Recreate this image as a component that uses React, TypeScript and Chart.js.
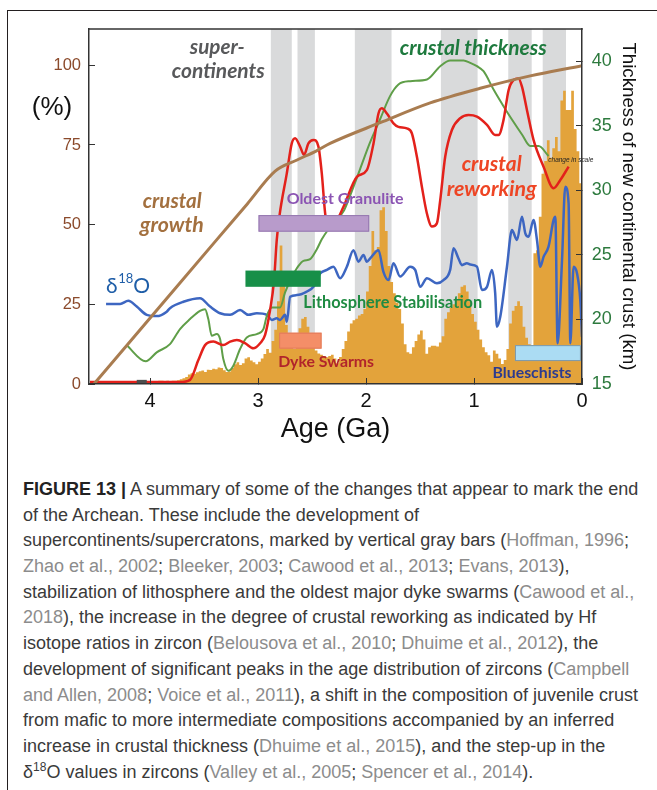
import React, { useEffect, useRef } from 'react';
import { Chart, registerables } from 'chart.js';

Chart.register(...registerables);

// ---------- axes ----------
const X_TICKS = [0, 1, 2, 3, 4];
const PCT_TICKS = [0, 25, 50, 75, 100];
const KM_TICKS = [15, 20, 25, 30, 35, 40];

// ---------- supercontinent intervals (Ga) ----------
const SUPER_OLD = [2.882, 2.635, 2.104, 1.307, 0.683, 0.364];
const SUPER_YOUNG = [2.688, 2.474, 1.764, 0.967, 0.466, 0.148];

// ---------- crustal growth (%) ----------
const GROWTH_AGE = [4.52, 4.0, 3.4, 3.1, 2.842, 2.639, 2.463, 2.333, 1.869, 1.406, 0.943, 0.479, 0];
const GROWTH_PCT = [0, 20.7, 44.6, 56.5, 66.8, 70.3, 73.1, 75.5, 82.0, 88.2, 92.8, 96.7, 99.9];

// ---------- crustal reworking (%) ----------
const REWORK_AGE = [4.557, 3.723, 3.63, 3.553, 3.491, 3.414, 3.322, 3.259, 3.197, 3.121, 3.044, 2.981, 2.935, 2.889, 2.852, 2.827, 2.801, 2.734, 2.688, 2.657, 2.611, 2.574, 2.534, 2.487, 2.441, 2.41, 2.379, 2.351, 2.302, 2.209, 2.085, 1.993, 1.931, 1.885, 1.854, 1.807, 1.746, 1.7, 1.622, 1.576, 1.529, 1.483, 1.437, 1.39, 1.344, 1.313, 1.267, 1.205, 1.128, 1.051, 0.973, 0.88, 0.804, 0.773, 0.727, 0.68, 0.634, 0.588, 0.556, 0.51, 0.449, 0.356, 0.263, 0.201, 0.124];
const REWORK_PCT = [0.6, 0.6, 1.3, 7.5, 12.2, 13.3, 12.2, 13.3, 13.8, 12.8, 11.2, 12.8, 15.4, 23.2, 32.6, 45.2, 53.0, 66.1, 75.5, 77.1, 74.5, 71.9, 75.5, 76.6, 74.5, 66.1, 53.6, 48.3, 49.4, 55.6, 65.0, 67.1, 75.5, 84.9, 86.5, 84.9, 81.8, 80.7, 80.2, 78.7, 71.3, 61.9, 53.6, 49.4, 50.4, 57.7, 71.3, 79.7, 83.4, 84.4, 83.9, 81.3, 78.1, 78.1, 82.8, 92.2, 95.4, 95.9, 93.3, 86.0, 76.6, 68.2, 61.4, 64.0, 68.2];

// ---------- crustal thickness (km) ----------
const THICK_AGE = [4.217, 4.041, 3.939, 3.816, 3.723, 3.63, 3.538, 3.491, 3.461, 3.429, 3.383, 3.352, 3.322, 3.275, 3.229, 3.167, 3.105, 3.012, 2.951, 2.919, 2.873, 2.796, 2.75, 2.688, 2.626, 2.58, 2.518, 2.456, 2.41, 2.348, 2.203, 2.149, 2.056, 1.964, 1.871, 1.778, 1.7, 1.591, 1.436, 1.313, 1.22, 1.097, 1.035, 0.973, 0.912, 0.819, 0.727, 0.649, 0.556, 0.479, 0.402, 0.31];
const THICK_KM = [18.0, 16.76, 17.45, 18.09, 19.25, 20.03, 20.67, 20.8, 20.03, 18.74, 18.87, 18.48, 16.93, 16.03, 16.42, 17.71, 18.61, 18.87, 19.25, 20.28, 20.93, 20.93, 22.09, 23.25, 24.15, 24.54, 24.67, 25.44, 26.21, 26.99, 28.46, 29.56, 31.63, 33.69, 35.49, 37.3, 38.2, 38.46, 38.59, 39.62, 40.06, 40.06, 39.88, 39.62, 39.23, 37.81, 36.52, 35.49, 34.33, 33.43, 33.43, 32.66];

// ---------- delta 18 O (relative, plotted on % axis) ----------
const D18O_AGE = [4.408, 4.278, 4.202, 4.124, 4.031, 3.939, 3.846, 3.816, 3.692, 3.538, 3.445, 3.352, 3.259, 3.167, 3.09, 3.012, 2.919, 2.873, 2.827, 2.796, 2.75, 2.734, 2.703, 2.641, 2.549, 2.487, 2.425, 2.363, 2.302, 2.24, 2.178, 2.117, 2.07, 2.024, 1.993, 1.962, 1.885, 1.839, 1.792, 1.746, 1.684, 1.591, 1.545, 1.498, 1.436, 1.344, 1.283, 1.221, 1.19, 1.144, 1.112, 1.066, 1.035, 0.973, 0.927, 0.88, 0.834, 0.804, 0.788, 0.757, 0.695, 0.649, 0.602, 0.556, 0.525, 0.495, 0.449, 0.417, 0.386, 0.356, 0.31, 0.263, 0.247, 0.226, 0.185, 0.155, 0.124, 0.108, 0.078, 0.046, 0.016, 0];
const D18O_VAL = [25.1, 25.1, 26.1, 24.3, 21.7, 21.3, 22.7, 23.8, 25.8, 26.9, 24.3, 22.2, 21.7, 23.2, 21.7, 22.2, 21.7, 20.1, 20.6, 20.1, 21.7, 19.5, 27.4, 27.9, 29.0, 30.5, 34.7, 35.8, 36.8, 33.2, 36.8, 42.0, 38.4, 40.5, 38.4, 39.4, 42.0, 35.2, 32.6, 37.9, 33.7, 36.8, 35.8, 30.5, 33.2, 31.6, 32.6, 35.8, 42.6, 39.4, 37.3, 37.9, 37.5, 36.8, 29.5, 30.5, 35.8, 28.5, 18.0, 21.1, 36.8, 48.3, 45.2, 52.5, 47.3, 46.2, 51.5, 45.2, 36.8, 39.9, 43.1, 51.5, 52.5, 12.8, 38.9, 61.9, 56.7, 12.8, 36.8, 34.7, 26.4, 14.8];

// ---------- zircon age histogram (relative, 0.025 Ga bins from 3.95 Ga to 0) ----------
const ZIRCON_FIRST_BIN = 3.95;
const ZIRCON_BIN_WIDTH = 0.025;
const ZIRCON_COUNTS = [
  0.5, 1.0, 1.0, 0.8, 1.0, 0.8, 1.0, 1.0, 1.2, 1.5,
  1.8, 2.2, 3.0, 3.4, 3.2, 3.7, 4.0, 4.2, 3.8, 4.5,
  4.4, 4.8, 4.6, 5.2, 5.0, 4.3, 3.8, 3.9, 5.0, 6.2,
  6.8, 6.0, 6.5, 8.0, 8.4, 7.4, 6.8, 6.2, 7.0, 8.0,
  9.4, 11.0, 9.8, 13.5, 17.0, 26.0, 43.5, 33.0, 18.5, 15.0,
  12.5, 11.0, 13.0, 17.5, 20.5, 21.0, 18.0, 14.0, 11.5, 10.5,
  9.6, 9.2, 8.8, 8.4, 8.8, 9.2, 8.0, 6.5, 8.5, 11.0,
  13.5, 16.5, 19.0, 20.0, 20.5, 21.5, 22.0, 23.5, 29.0, 37.0,
  48.0, 42.0, 43.0, 54.5, 55.5, 48.0, 37.0, 32.0, 28.5, 25.5,
  23.5, 19.0, 12.5, 10.0, 9.5, 11.5, 13.5, 15.5, 16.8, 14.0,
  9.5, 11.5, 12.0, 12.0, 11.8, 13.0, 15.0, 20.5, 22.5, 24.0,
  25.0, 26.5, 28.5, 30.5, 31.0, 29.0, 26.0, 22.0, 19.5, 17.0,
  14.0, 11.5, 10.0, 9.0, 7.0, 10.5, 9.5, 8.0, 6.3, 7.5,
  11.0, 19.0, 23.0, 24.5, 26.0, 24.5, 18.0, 14.5, 12.5, 11.5,
  41.0, 42.0, 52.5, 66.0, 70.0, 76.5, 71.0, 74.0, 77.5, 73.0,
  89.0, 92.0, 86.0, 86.0, 92.0, 80.0, 73.0, 63.0, 60.0,
];

// ---------- event bars (Ga) ----------
const EVENT_NAMES = ['Oldest Granulite', 'Lithosphere Stabilisation', 'Dyke Swarms', 'Blueschists', 'oldest zircon'];
const EVENT_OLD = [2.996, 3.117, 2.805, 0.621, 4.124];
const EVENT_YOUNG = [1.971, 2.419, 2.412, 0.01, 4.031];
// vertical placement of the bars on the % axis (styling)
const EVENT_LO = [47.8, 30.5, 11.1, 7.2, 0.3];
const EVENT_HI = [53.0, 35.6, 16.1, 12.2, 1.3];
const EVENT_FILL = ['#b89bcb', '#178f48', '#f48e68', '#abdcf3', '#4d4d4d'];
const EVENT_STROKE = ['#9577b0', '', '#e27a58', '#7d97a5', ''];

const SANS = '"Liberation Sans", Arial, Helvetica, sans-serif';
const LABEL_FAMILY = 'Lato, "Noto Sans", sans-serif';

type Label = { text: string; age: number; pct: number; w: number; color: string; style: string; family?: string };
const LABELS: Label[] = [
  { text: 'super-', age: 3.378, pct: 105.7, w: 55, color: '#58595b', style: 'italic bold' },
  { text: 'continents', age: 3.369, pct: 98.2, w: 93, color: '#58595b', style: 'italic bold' },
  { text: 'crustal thickness', age: 1.007, pct: 105.4, w: 147, color: '#1e7a3e', style: 'italic bold' },
  { text: 'crustal', age: 3.795, pct: 57.4, w: 59, color: '#a3703f', style: 'italic bold' },
  { text: 'growth', age: 3.8, pct: 49.9, w: 64, color: '#a3703f', style: 'italic bold' },
  { text: 'crustal', age: 0.837, pct: 69.0, w: 60, color: '#ee4524', style: 'italic bold' },
  { text: 'reworking', age: 0.837, pct: 61.2, w: 90, color: '#ee4524', style: 'italic bold' },
  { text: 'Oldest Granulite', age: 2.194, pct: 58.0, w: 117, color: '#8b54b3', style: 'bold' },
  { text: 'Lithosphere Stabilisation', age: 1.753, pct: 25.5, w: 179, color: '#1f8b42', style: 'bold' },
  { text: 'Dyke Swarms', age: 2.37, pct: 6.8, w: 96, color: '#b1242b', style: 'bold' },
  { text: 'Blueschists', age: 0.463, pct: 3.4, w: 79, color: '#2c3b8f', style: 'bold' },
  { text: 'change in scale', age: 0.104, pct: 70.1, w: 45, color: '#222', style: 'italic', family: SANS },
];

function drawFitted(ctx: CanvasRenderingContext2D, l: Label, cx: number, cy: number) {
  const fam = l.family || LABEL_FAMILY;
  ctx.font = `${l.style} 20px ${fam}`;
  const m = ctx.measureText(l.text).width;
  const size = (20 * l.w) / m;
  ctx.font = `${l.style} ${size}px ${fam}`;
  ctx.fillStyle = l.color;
  ctx.textAlign = 'center';
  ctx.textBaseline = 'middle';
  ctx.fillText(l.text, cx, cy);
}

const overlayPlugin = {
  id: 'overlay',
  beforeDatasetsDraw(chart: any) {
    const { ctx, chartArea: a, scales } = chart;
    const x = scales.x;
    ctx.save();
    ctx.fillStyle = '#d9dadb';
    for (let i = 0; i < SUPER_OLD.length; i++) {
      const x1 = x.getPixelForValue(SUPER_OLD[i]);
      const x2 = x.getPixelForValue(SUPER_YOUNG[i]);
      ctx.fillRect(x1, a.top, x2 - x1, a.bottom - a.top);
    }
    ctx.restore();
  },
  afterDatasetsDraw(chart: any) {
    const { ctx, scales } = chart;
    const x = scales.x;
    const y = scales.y;
    ctx.save();
    for (let i = 0; i < EVENT_NAMES.length; i++) {
      const x1 = x.getPixelForValue(EVENT_OLD[i]);
      const x2 = x.getPixelForValue(EVENT_YOUNG[i]);
      const y1 = y.getPixelForValue(EVENT_HI[i]);
      const y2 = y.getPixelForValue(EVENT_LO[i]);
      ctx.fillStyle = EVENT_FILL[i];
      ctx.fillRect(x1, y1, x2 - x1, y2 - y1);
      if (EVENT_STROKE[i]) {
        ctx.strokeStyle = EVENT_STROKE[i];
        ctx.lineWidth = 1;
        ctx.strokeRect(x1 + 0.5, y1 + 0.5, x2 - x1 - 1, y2 - y1 - 1);
      }
    }
    for (const l of LABELS) {
      drawFitted(ctx, l, x.getPixelForValue(l.age), y.getPixelForValue(l.pct));
    }
    // delta 18 O label
    const dx = x.getPixelForValue(4.408);
    const dy = y.getPixelForValue(28.6);
    ctx.fillStyle = '#1f5ea8';
    ctx.textAlign = 'left';
    ctx.textBaseline = 'alphabetic';
    ctx.font = `21px ${LABEL_FAMILY}`;
    ctx.fillText('δ', dx, dy);
    let cx = dx + ctx.measureText('δ').width + 0.5;
    ctx.font = `13px ${LABEL_FAMILY}`;
    ctx.fillText('18', cx, dy - 10);
    cx += ctx.measureText('18').width;
    ctx.font = `21px ${LABEL_FAMILY}`;
    ctx.fillText('O', cx, dy);
    ctx.restore();
  },
  afterDraw(chart: any) {
    const { ctx, chartArea: a } = chart;
    ctx.save();
    ctx.strokeStyle = '#333';
    ctx.lineWidth = 1.5;
    ctx.beginPath();
    ctx.moveTo(a.left - 0.75, a.top);
    ctx.lineTo(a.right + 0.75, a.top);
    ctx.stroke();
    // (%) unit label
    ctx.fillStyle = '#111';
    ctx.font = `26px ${SANS}`;
    ctx.textAlign = 'center';
    ctx.textBaseline = 'middle';
    ctx.fillText('(%)', 52, 108);
    ctx.restore();
  },
};

type Seg = [string, number];
const CAPTION: Seg[][] = [
  [['FIGURE 13 |', 2], [' A summary of some of the changes that appear to mark the end', 0]],
  [['of the Archean. These include the development of', 0]],
  [['supercontinents/supercratons, marked by vertical gray bars (', 0], ['Hoffman, 1996', 1], [';', 0]],
  [['Zhao et al., 2002', 1], ['; ', 0], ['Bleeker, 2003', 1], ['; ', 0], ['Cawood et al., 2013', 1], ['; ', 0], ['Evans, 2013', 1], ['),', 0]],
  [['stabilization of lithosphere and the oldest major dyke swarms (', 0], ['Cawood et al.,', 1]],
  [['2018', 1], ['), the increase in the degree of crustal reworking as indicated by Hf', 0]],
  [['isotope ratios in zircon (', 0], ['Belousova et al., 2010', 1], ['; ', 0], ['Dhuime et al., 2012', 1], ['), the', 0]],
  [['development of significant peaks in the age distribution of zircons (', 0], ['Campbell', 1]],
  [['and Allen, 2008', 1], ['; ', 0], ['Voice et al., 2011', 1], ['), a shift in the composition of juvenile crust', 0]],
  [['from mafic to more intermediate compositions accompanied by an inferred', 0]],
  [['increase in crustal thickness (', 0], ['Dhuime et al., 2015', 1], ['), and the step-up in the', 0]],
  [['δ', 0], ['18', 3], ['O values in zircons (', 0], ['Valley et al., 2005', 1], ['; ', 0], ['Spencer et al., 2014', 1], [').', 0]],
];

export default function App() {
  const ref = useRef<HTMLCanvasElement>(null);

  useEffect(() => {
    const canvas = ref.current;
    if (!canvas) return;
    const pts = (xs: number[], ys: number[]) => xs.map((a, i) => ({ x: a, y: ys[i] }));
    const zircon = ZIRCON_COUNTS.map((v, i) => ({ x: +(ZIRCON_FIRST_BIN - i * ZIRCON_BIN_WIDTH).toFixed(3), y: v }));
    const tickGrid = { drawOnChartArea: false, drawTicks: true, tickLength: -6, color: '#333', lineWidth: 1, z: 1 };
    const border = { display: true, color: '#333', width: 1.5, z: 1 };

    const chart = new Chart(canvas, {
      type: 'line',
      data: {
        datasets: [
          {
            label: 'crustal growth',
            data: pts(GROWTH_AGE, GROWTH_PCT),
            borderColor: '#a97c50',
            borderWidth: 3,
            pointRadius: 0,
            cubicInterpolationMode: 'monotone',
            yAxisID: 'y',
          },
          {
            label: 'crustal reworking',
            data: pts(REWORK_AGE, REWORK_PCT),
            borderColor: '#e3211b',
            borderWidth: 2.5,
            pointRadius: 0,
            cubicInterpolationMode: 'monotone',
            yAxisID: 'y',
          },
          {
            label: 'crustal thickness',
            data: pts(THICK_AGE, THICK_KM),
            borderColor: '#5f9e48',
            borderWidth: 2,
            pointRadius: 0,
            cubicInterpolationMode: 'monotone',
            yAxisID: 'y2',
          },
          {
            label: 'δ18O',
            data: pts(D18O_AGE, D18O_VAL),
            borderColor: '#3d66c1',
            borderWidth: 2.5,
            pointRadius: 0,
            cubicInterpolationMode: 'monotone',
            yAxisID: 'y',
          },
          {
            label: 'zircon ages',
            data: zircon,
            stepped: 'before',
            fill: 'origin',
            backgroundColor: '#e3a33b',
            borderColor: '#e3a33b',
            borderWidth: 0,
            pointRadius: 0,
            yAxisID: 'y',
          },
        ] as any,
      },
      options: {
        responsive: false,
        animation: false,
        events: [],
        layout: { padding: { top: 29, left: 0, right: 0, bottom: 0 } },
        plugins: { legend: { display: false }, tooltip: { enabled: false } },
        scales: {
          x: {
            type: 'linear',
            reverse: true,
            min: 0,
            max: 4.566,
            afterBuildTicks: (s: any) => { s.ticks = X_TICKS.map((v) => ({ value: v })); },
            afterFit: (s: any) => { s.height = 76; },
            grid: tickGrid,
            border,
            ticks: { color: '#111', font: { family: SANS, size: 20 }, padding: 11.5, maxRotation: 0, autoSkip: false },
            title: { display: true, text: 'Age (Ga)', color: '#111', font: { family: SANS, size: 27 }, padding: { top: 0, bottom: 14.4 } },
          },
          y: {
            type: 'linear',
            position: 'left',
            min: 0,
            max: 111.4,
            afterBuildTicks: (s: any) => { s.ticks = PCT_TICKS.map((v) => ({ value: v })); },
            afterFit: (s: any) => { s.width = 89; },
            grid: tickGrid,
            border,
            ticks: { color: '#8b4a2b', font: { family: SANS, size: 16.5 }, padding: 14 },
          },
          y2: {
            type: 'linear',
            position: 'right',
            min: 15,
            max: 42.5,
            afterBuildTicks: (s: any) => { s.ticks = KM_TICKS.map((v) => ({ value: v })); },
            afterFit: (s: any) => { s.width = 75; },
            grid: tickGrid,
            border,
            ticks: { color: '#2d7a3e', font: { family: SANS, size: 18 }, padding: 15.7 },
            title: {
              display: true,
              text: 'Thickness of new continental crust (km)',
              color: '#111',
              font: { family: SANS, size: 18.7 },
              padding: { top: 17.8, bottom: 0 },
            },
          },
        },
      } as any,
      plugins: [overlayPlugin as any],
    });
    return () => chart.destroy();
  }, []);

  return (
    <div style={{ position: 'absolute', left: 0, top: 0, width: 657, height: 790, overflow: 'hidden', background: '#fff' }}>
      <div
        style={{
          position: 'absolute',
          left: 7,
          top: 10,
          width: 720,
          height: 820,
          borderLeft: '1.5px solid #231f20',
          borderTop: '1.5px solid #231f20',
        }}
      />
      <canvas ref={ref} width={657} height={460} style={{ position: 'absolute', left: 0, top: 0, width: 657, height: 460 }} />
      <div
        style={{
          position: 'absolute',
          left: 23,
          top: 477,
          fontFamily: SANS,
          fontSize: 18,
          lineHeight: '25.7px',
          color: '#3a3a3a',
          whiteSpace: 'nowrap',
        }}
      >
        {CAPTION.map((line, i) => (
          <div key={i} style={{ height: 25.7 }}>
            {line.map(([t, k], j) =>
              k === 1 ? (
                <span key={j} style={{ color: '#8c8c8c' }}>{t}</span>
              ) : k === 2 ? (
                <span key={j} style={{ fontWeight: 'bold', color: '#222' }}>{t}</span>
              ) : k === 3 ? (
                <span key={j} style={{ fontSize: 12, verticalAlign: '7px', lineHeight: 0 }}>{t}</span>
              ) : (
                <span key={j}>{t}</span>
              )
            )}
          </div>
        ))}
      </div>
    </div>
  );
}
